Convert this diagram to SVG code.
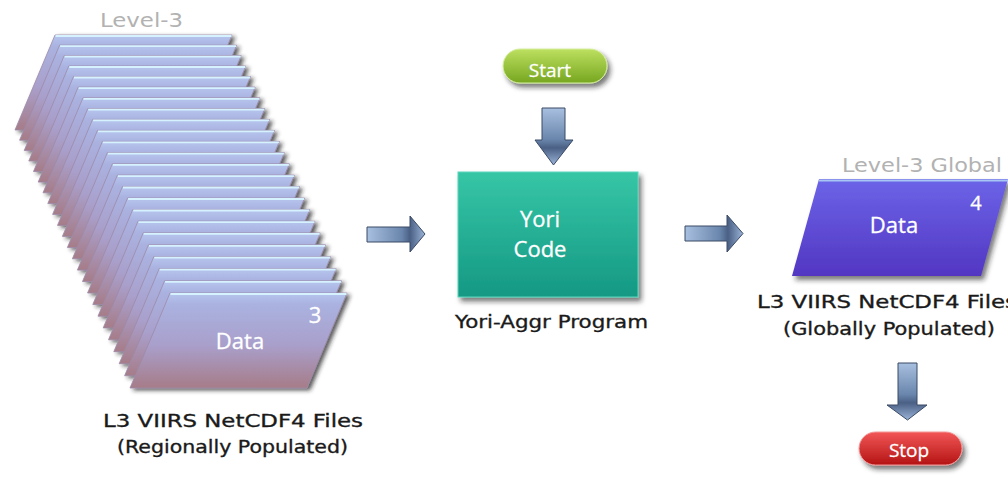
<svg xmlns="http://www.w3.org/2000/svg" xmlns:xlink="http://www.w3.org/1999/xlink" width="1008" height="480" viewBox="0 0 1008 480">
<style>
.lbl{font-family:"DejaVu Sans","Liberation Sans",sans-serif;font-size:18px;fill:#1a1a1a;stroke:#1a1a1a;stroke-width:0.35;}
.ttl{font-family:"DejaVu Sans","Liberation Sans",sans-serif;font-size:19px;fill:#b2b2b2;}
.in{font-family:"Open Sans","Liberation Sans",sans-serif;fill:#ffffff;text-anchor:middle;stroke:#ffffff;stroke-width:0.3;}
.arrow{stroke:#3a4a66;stroke-width:1;}
</style>
<defs>
<linearGradient id="gSheet" x1="0" y1="0" x2="0" y2="1">
<stop offset="0" stop-color="#b6c6ee"/>
<stop offset="0.12" stop-color="#aab2e0"/>
<stop offset="0.55" stop-color="#a99fcb"/>
<stop offset="1" stop-color="#a67c88"/>
</linearGradient>
<linearGradient id="gGlobal" x1="0" y1="0" x2="0" y2="1">
<stop offset="0" stop-color="#6c64e8"/>
<stop offset="1" stop-color="#5236c2"/>
</linearGradient>
<linearGradient id="gTeal" x1="0" y1="0" x2="0" y2="1">
<stop offset="0" stop-color="#36c6a6"/>
<stop offset="1" stop-color="#159884"/>
</linearGradient>
<linearGradient id="gGreen" x1="0" y1="0" x2="0" y2="1">
<stop offset="0" stop-color="#bde060"/>
<stop offset="1" stop-color="#76a620"/>
</linearGradient>
<linearGradient id="gRed" x1="0" y1="0" x2="0" y2="1">
<stop offset="0" stop-color="#f25656"/>
<stop offset="1" stop-color="#b41414"/>
</linearGradient>
<linearGradient id="gArrH" x1="0" y1="0" x2="1" y2="0">
<stop offset="0" stop-color="#a8c0e0"/>
<stop offset="0.6" stop-color="#6a86ac"/>
<stop offset="0.74" stop-color="#4a6084"/>
<stop offset="1" stop-color="#9ab4d8"/>
</linearGradient>
<linearGradient id="gArrV" x1="0" y1="0" x2="0" y2="1">
<stop offset="0" stop-color="#a8c0e0"/>
<stop offset="0.55" stop-color="#6a86ac"/>
<stop offset="0.7" stop-color="#4a6084"/>
<stop offset="1" stop-color="#9ab4d8"/>
</linearGradient>
<filter id="shSheet" x="-20%" y="-20%" width="140%" height="150%">
<feDropShadow dx="3" dy="2" stdDeviation="2" flood-color="#202020" flood-opacity="0.75"/>
</filter>
<filter id="sh" x="-20%" y="-20%" width="140%" height="150%">
<feDropShadow dx="3" dy="4" stdDeviation="2.5" flood-color="#202020" flood-opacity="0.6"/>
</filter>
<g id="sheet">
<polygon points="0,0 177,0 137,95 -40,95" fill="url(#gSheet)" stroke="#9c8aa8" stroke-width="0.8"/>
<line x1="0.5" y1="1" x2="176.5" y2="1" stroke="#d6f2ff" stroke-width="1.8"/>
</g>
</defs>

<g id="connectors">
<path class="arrow" fill="url(#gArrH)" d="M367,227 H410 V216 L425,234 L410,252 V242 H367 Z"/>
<path class="arrow" fill="url(#gArrH)" d="M685,226 H727 V215 L743,233.5 L727,252 V241 H685 Z"/>
<path class="arrow" fill="url(#gArrV)" d="M542,108 H565 V140 H573 L553.5,165 L535,140 H542 Z"/>
<path class="arrow" fill="url(#gArrV)" d="M898,363 H917 V405 H927 L907.5,420 L887,405 H898 Z"/>
</g>

<g id="level3-stack">
<text class="ttl" x="100" y="27" textLength="83" lengthAdjust="spacingAndGlyphs">Level-3</text>
<g filter="url(#shSheet)">
<use xlink:href="#sheet" transform="translate(55,35)"/>
<use xlink:href="#sheet" transform="translate(59.6,45.2)"/>
<use xlink:href="#sheet" transform="translate(64.2,55.6)"/>
<use xlink:href="#sheet" transform="translate(68.8,66)"/>
<use xlink:href="#sheet" transform="translate(73.5,76.5)"/>
<use xlink:href="#sheet" transform="translate(78.2,87.1)"/>
<use xlink:href="#sheet" transform="translate(83,97.8)"/>
<use xlink:href="#sheet" transform="translate(87.8,108.6)"/>
<use xlink:href="#sheet" transform="translate(92.6,119.4)"/>
<use xlink:href="#sheet" transform="translate(97.5,130.4)"/>
<use xlink:href="#sheet" transform="translate(102.4,141.4)"/>
<use xlink:href="#sheet" transform="translate(107.4,152.6)"/>
<use xlink:href="#sheet" transform="translate(112.4,163.8)"/>
<use xlink:href="#sheet" transform="translate(117.4,175.1)"/>
<use xlink:href="#sheet" transform="translate(122.5,186.5)"/>
<use xlink:href="#sheet" transform="translate(127.6,198)"/>
<use xlink:href="#sheet" transform="translate(132.8,209.5)"/>
<use xlink:href="#sheet" transform="translate(138,221.2)"/>
<use xlink:href="#sheet" transform="translate(143.2,232.9)"/>
<use xlink:href="#sheet" transform="translate(148.5,244.8)"/>
<use xlink:href="#sheet" transform="translate(153.8,256.7)"/>
<use xlink:href="#sheet" transform="translate(159.2,268.7)"/>
<use xlink:href="#sheet" transform="translate(164.6,280.8)"/>
<use xlink:href="#sheet" transform="translate(170,293)"/>
</g>
<text class="in" x="315" y="323" font-size="22">3</text>
<text class="in" x="240" y="349" font-size="22">Data</text>
<text class="lbl" x="103" y="427" textLength="260" lengthAdjust="spacingAndGlyphs">L3 VIIRS NetCDF4 Files</text>
<text class="lbl" x="117" y="453" textLength="231" lengthAdjust="spacingAndGlyphs">(Regionally Populated)</text>
</g>

<g id="start">
<rect x="503" y="49" width="104" height="34" rx="17" fill="url(#gGreen)" stroke="#d6eea0" stroke-width="1" filter="url(#sh)"/>
<text class="in" x="550" y="77" font-size="19">Start</text>
</g>

<g id="yori-code">
<rect x="458" y="172" width="180" height="125" fill="url(#gTeal)" stroke="#5ad6bc" stroke-width="1" filter="url(#sh)"/>
<text class="in" x="540" y="227" font-size="22">Yori</text>
<text class="in" x="540" y="257" font-size="22">Code</text>
<text class="lbl" x="455" y="328" textLength="193" lengthAdjust="spacingAndGlyphs">Yori-Aggr Program</text>
</g>

<g id="level3-global">
<text class="ttl" x="842" y="172" textLength="160" lengthAdjust="spacingAndGlyphs">Level-3 Global</text>
<polygon points="819,179 1008,179 981,276 792,276" fill="url(#gGlobal)" filter="url(#sh)"/>
<line x1="819" y1="180.5" x2="1008" y2="180.5" stroke="#a8c6f2" stroke-width="2"/>
<text class="in" x="976" y="210" font-size="20">4</text>
<text class="in" x="894" y="233" font-size="22">Data</text>
<text class="lbl" x="757" y="308" textLength="260" lengthAdjust="spacingAndGlyphs">L3 VIIRS NetCDF4 Files</text>
<text class="lbl" x="783" y="335" textLength="212" lengthAdjust="spacingAndGlyphs">(Globally Populated)</text>
</g>

<g id="stop">
<rect x="859" y="432" width="103" height="33" rx="16.5" fill="url(#gRed)" stroke="#f39a9a" stroke-width="1" filter="url(#sh)"/>
<text class="in" x="909" y="457" font-size="19">Stop</text>
</g>
</svg>
